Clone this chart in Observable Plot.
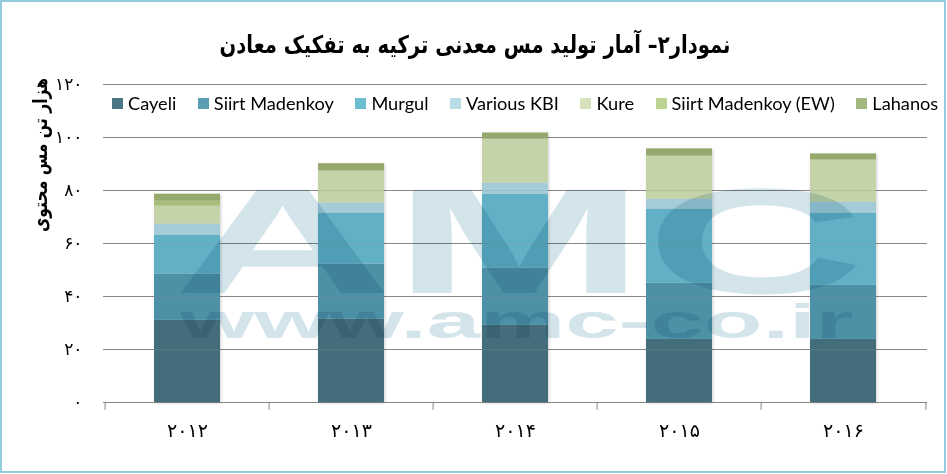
<!DOCTYPE html>
<html>
<head>
<meta charset="utf-8">
<script src="https://cdn.jsdelivr.net/npm/d3@7"></script>
<script src="https://cdn.jsdelivr.net/npm/@observablehq/plot@0.6"></script>
<style>
  html, body { margin: 0; padding: 0; background: #fff; }
  #wrap { position: relative; width: 947px; height: 474px; overflow: hidden; background: #fff; }
  #wrap > * { position: absolute; }
  #title { left: 475px; top: 44px; transform: translate(-50%, -50%) scaleX(0.8); white-space: nowrap; direction: rtl;
           font-family: "DejaVu Sans", sans-serif; font-weight: bold; font-size: 24.5px; color: #000; }
  #ytitle { left: 40px; top: 155px; transform: translate(-50%, -50%) rotate(-90deg) scaleX(0.8); white-space: nowrap;
            direction: rtl; font-family: "DejaVu Sans", sans-serif; font-weight: bold; font-size: 19.5px; color: #000; }
  #legend { left: 112px; top: 92px; display: flex; gap: 21.5px; font-family: Lato, sans-serif; font-size: 18.2px; color: #000; white-space: nowrap; }
  #legend .it { display: flex; align-items: center; gap: 5px; }
  #legend .sw { width: 11px; height: 11px; display: inline-block; }
  #wm { left: 0; top: 0; mix-blend-mode: multiply; pointer-events: none; }
  #border { left: 0; top: 0; width: 946px; height: 473px; box-sizing: border-box; border: 2.5px solid #93cddd; pointer-events: none; }
</style>
</head>
<body>
<div id="wrap">
  <div id="chart"></div>
  <div id="title">نمودار۲– آمار تولید مس معدنی ترکیه به تفکیک معادن</div>
  <div id="ytitle">هزار تن مس محتوی</div>
  <div id="legend"></div>
  <svg id="wm" width="947" height="474">
    <text x="173" y="293" textLength="692" lengthAdjust="spacingAndGlyphs" font-family="Liberation Sans" font-weight="bold" font-size="150" fill="#d3e5eb">AMC</text>
    <text x="180" y="338" textLength="673" lengthAdjust="spacingAndGlyphs" font-family="Liberation Sans" font-weight="bold" font-size="48" fill="#d3e5eb">www.amc-co.ir</text>
  </svg>
  <div id="border"></div>
</div>
<script>
// ---- data (thousand tonnes of contained copper) ----
const years = ["2012", "2013", "2014", "2015", "2016"];
const seriesNames = ["Cayeli", "Siirt Madenkoy", "Murgul", "Various KBI", "Kure", "Siirt Madenkoy (EW)", "Lahanos"];
const cayeli   = [31.0, 31.4, 29.1, 23.8, 23.8];
const siirt    = [17.4, 20.8, 21.6, 21.2, 20.4];
const murgul   = [14.7, 19.3, 27.9, 28.0, 27.3];
const kbi      = [4.2, 3.8, 4.2, 3.7, 4.1];
const kure     = [6.8, 12.1, 16.6, 16.3, 15.9];
const siirtEW  = [1.9, 0, 0, 0, 0];
const lahanos  = [2.6, 2.7, 2.3, 2.7, 2.3];
const yTicks   = [0, 20, 40, 60, 80, 100, 120];

const barColors    = ["#446d7c", "#4d91a7", "#61b0c6", "#a3cbd8", "#c5d3a9", "#a7bf77", "#94a96b"];
const legendColors = ["#4a7585", "#5b9db3", "#6bbdd0", "#b8dde6", "#d6e2bb", "#bdd391", "#a3b87f"];

const seriesValues = [cayeli, siirt, murgul, kbi, kure, siirtEW, lahanos];
const rows = [];
seriesNames.forEach((s, i) => years.forEach((y, j) => rows.push({year: y, series: s, value: seriesValues[i][j]})));

const fa = v => String(v).replace(/\d/g, d => "۰۱۲۳۴۵۶۷۸۹"[d]);

const W = 947, H = 474, ML = 103, MR = 20, MT = 84, MB = 72;
const step = (W - ML - MR) / years.length;

const chart = Plot.plot({
  width: W, height: H,
  marginLeft: ML, marginRight: MR, marginTop: MT, marginBottom: MB,
  style: {fontFamily: "DejaVu Sans, sans-serif", color: "#000", background: "transparent", overflow: "visible"},
  x: {domain: years, paddingInner: 0.6, paddingOuter: 0.3, align: 0.5},
  y: {domain: [0, 120]},
  color: {domain: seriesNames, range: barColors},
  marks: [
    Plot.ruleY(yTicks, {stroke: "#878787", strokeWidth: 1}),
    Plot.barY(rows, {x: "year", y: "value", fill: "series"}),
    Plot.ruleY(yTicks.slice(1), {stroke: "#878787", strokeOpacity: 0.25}),
    Plot.ruleX(years, {x: d => d, dx: -step / 2, y1: 0, y2: -3, stroke: "#878787"}),
    Plot.ruleX(years.slice(-1), {x: d => d, dx: step / 2, y1: 0, y2: -3, stroke: "#878787"}),
    Plot.axisY({ticks: yTicks, tickSize: 0, tickPadding: 21, tickFormat: fa, fontSize: 17, label: null}),
    Plot.axisX({tickSize: 0, tickPadding: 21, tickFormat: fa, fontSize: 19, label: null})
  ]
});
chart.querySelectorAll('g[aria-label="bar"]').forEach(g => g.style.filter = "drop-shadow(1px 1px 1.5px rgba(0,0,0,0.18))");
document.getElementById("chart").appendChild(chart);

const legend = document.getElementById("legend");
seriesNames.forEach((s, i) => {
  const it = document.createElement("span");
  it.className = "it";
  it.innerHTML = `<span class="sw" style="background:${legendColors[i]}"></span><span>${s}</span>`;
  legend.appendChild(it);
});
</script>
</body>
</html>
